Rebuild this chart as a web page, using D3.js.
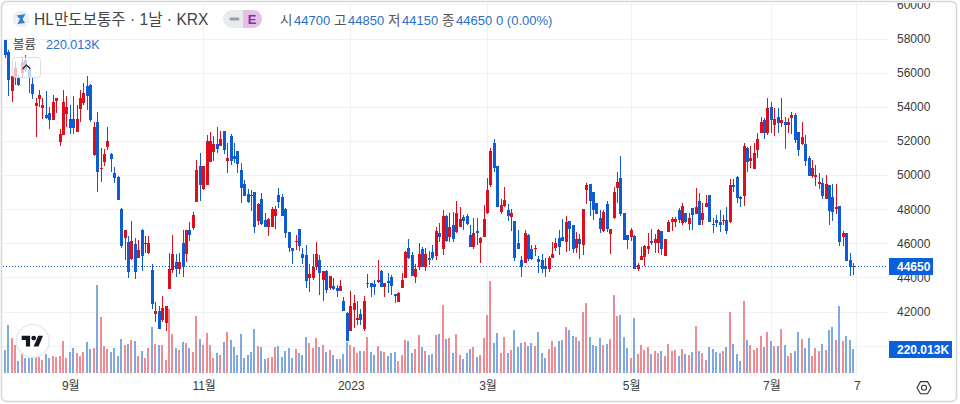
<!DOCTYPE html>
<html>
<head>
<meta charset="utf-8">
<title>HL만도보통주</title>
<script src="https://cdn.jsdelivr.net/npm/d3@7/dist/d3.min.js"></script>
<style>
  html, body { margin: 0; padding: 0; background: #fff; overflow: hidden; }
  text { font-family: "Liberation Sans", "Noto Sans CJK KR", sans-serif; }
</style>
</head>
<body>
<svg id="chart" width="960" height="404"></svg>
<script>
// daily candles
var opens = [
  57900,57200,54900,55700,55750,56000,56750,56150,55350,54050,
  54450,53950,53500,53650,53200,54350,51950,52350,53600,53300,
  53300,52500,53850,54200,55200,55300,51200,53100,50350,50750,
  51650,51250,50100,49900,48000,46300,46100,45100,45950,45150,
  46800,45950,45450,44450,41850,42050,41500,41350,43350,44450,
  44900,44500,46000,45400,46800,46900,48400,50550,49200,49400,
  50750,51350,51800,51700,52600,50800,52300,51100,51400,50300,
  49500,48900,48850,49000,47300,48600,47350,46950,46950,47600,
  48850,48700,48000,46650,45700,46100,46850,45400,45300,43950,
  43950,44600,45000,43850,44400,43400,43500,43400,43200,42650,
  41900,40850,42100,41500,41850,41000,43600,43700,43600,43750,
  44400,43450,43800,44050,43050,42550,43400,43950,45700,45300,
  44050,44600,45650,44600,45150,45500,45250,46600,45650,47600,
  46350,47100,46650,46950,47550,47600,46500,45800,46700,46000,
  46350,47800,49400,51900,50550,47850,48200,47950,47550,47300,
  46000,45000,44850,46500,45650,45650,45100,45000,44650,44500,
  45150,45700,46300,46350,46100,47300,47100,45700,46250,45900,
  49100,49500,49000,48350,47500,46700,48300,46550,47500,49250,
  49850,47800,46500,46350,46450,44500,45000,45200,45650,46150,
  46000,46000,46700,45250,46650,47250,47250,47950,47200,47800,
  47150,48050,47700,48500,47350,48150,48850,47150,47350,47250,
  47300,47350,47250,49400,49900,48700,48750,51600,50800,50350,
  51450,52450,53200,52450,54000,52950,53400,53050,53100,52950,
  53350,53500,52500,51800,51800,51000,49950,49900,49500,49550,
  48600,49400,48700,48000,48200,46350,46600,45000,44700
];
var highs = [
  57900,57350,55800,56600,55850,56900,57050,56450,55700,54500,
  55000,54500,54900,54000,54700,54500,52700,55000,54650,54100,
  54650,54100,55000,55400,55800,55350,53100,53700,51600,51550,
  52800,51300,50450,49950,48050,46800,46450,47300,46300,46200,
  46850,46450,46450,44800,42550,42300,42900,42350,45450,46500,
  45400,45450,46800,46800,47250,47850,50900,51300,50550,52350,
  52500,52300,52800,52600,52600,51900,52400,51900,51400,50700,
  49700,49200,49100,49000,48350,48950,47800,47500,48150,48200,
  49250,48900,48050,46650,45700,46500,46850,45700,45900,44800,
  45400,46100,45300,44400,44450,44100,43950,43550,43850,42850,
  42000,43200,43000,42650,42150,42900,44200,43700,43850,45000,
  44450,43700,44250,44150,43050,43150,44250,45550,46250,45500,
  44800,46000,45800,45700,45550,45900,46950,47200,47950,47650,
  47800,47850,48500,48150,47650,47700,47100,47500,47500,46350,
  48250,49850,51600,52100,50550,48600,49300,48300,48000,47300,
  46800,45250,46800,46550,45900,45900,45250,45400,45150,45250,
  46100,46300,46800,47450,47600,47300,47100,46650,46550,48000,
  49550,49500,49000,48350,47950,47950,48500,46850,49300,50200,
  51100,47800,46500,46900,46500,44850,45800,45900,46600,46850,
  46550,46850,46700,46250,47350,47550,47550,48050,48350,47800,
  47800,48050,49250,48950,48350,48850,48850,47500,47650,47950,
  47650,48150,49750,49750,49950,48750,51900,51650,51700,51900,
  52450,53400,53350,54500,54300,53950,53950,54500,53400,53350,
  53700,53650,52500,53100,52350,51100,50900,50600,50100,49850,
  50000,49400,49500,49500,48200,46700,46600,45450,44850
];
var lows = [
  56850,54650,54300,55300,55200,55750,56050,54800,54450,52250,
  54000,53300,53300,52700,53200,53650,51700,52350,52800,52400,
  52400,52500,53100,54100,53800,53100,51100,49000,49600,50550,
  51450,50200,49550,48550,45700,45000,43950,45000,43900,45150,
  44400,45450,45400,42150,41400,41000,41400,40850,43350,44250,
  44050,44200,44050,44900,46150,46800,48400,48500,49100,49400,
  50750,50800,51300,51700,51250,50100,50600,50700,50100,48350,
  48750,48350,47900,46600,47050,47100,46950,46450,46950,46850,
  48050,47600,46300,45500,44800,45600,45550,44800,43400,43150,
  43850,44450,43000,42650,43100,43250,43250,42850,43200,42050,
  40250,40850,41050,41200,41200,40850,43400,42850,43000,43700,
  43450,42850,43100,43000,42500,42550,43400,43950,45100,44100,
  43700,44450,44600,44400,44750,45000,45000,46100,45300,46100,
  46100,46100,46600,46950,46800,47100,45800,45650,45900,44850,
  46350,47700,49300,50200,48150,47700,48150,47300,46700,44950,
  45650,44050,44850,44950,45000,45250,44250,44250,44050,44300,
  45150,45550,45300,46150,45500,45550,45450,45450,45100,45300,
  48300,47600,47350,47700,46600,46650,46650,45400,47450,48350,
  47600,46200,45650,46150,44500,44400,45000,44650,45400,45900,
  45450,45450,45300,45250,46650,46700,46950,47200,47050,47200,
  46800,46800,47700,47050,47100,48150,47250,46600,46950,46650,
  47050,46550,47200,49000,48350,48150,48200,50200,50400,50350,
  51000,52450,52100,52350,52450,52300,52450,52800,51550,52450,
  52400,51900,51100,51750,50550,49950,49850,49350,49200,48600,
  48600,47100,47300,47700,45850,45850,44950,44100,44150
];
var closes = [
  57050,55550,55800,56250,55300,56600,56150,55700,54750,54200,
  54700,54100,53350,53200,54300,54500,52400,54300,54000,52750,
  52750,53300,54500,54800,54650,53200,52800,50200,50400,51250,
  52000,50950,49850,48550,45850,46800,44300,46150,44300,45600,
  45250,46000,46000,42450,42050,41000,42200,42300,44500,45400,
  44500,44900,44600,46800,46500,47650,50300,49400,50550,52000,
  52000,51800,51550,52100,51450,51000,50800,50950,50650,49250,
  48750,48400,48750,46950,48300,47150,46950,47450,48000,48000,
  48400,47600,46600,45700,45550,46150,45850,45150,43800,44200,
  44600,45400,44250,44400,43250,44100,43350,43200,43500,42050,
  40250,42350,42500,41650,41500,42650,43700,43450,43450,43850,
  43450,43700,43700,43500,42900,43100,43850,45500,45150,44100,
  44500,45400,44600,45400,45000,45150,46700,46350,47600,46150,
  46950,46250,47800,47450,47300,47150,45800,46600,46600,46300,
  47450,49100,51400,50400,48150,48250,48550,47600,47800,45150,
  45650,44600,46600,45100,45100,45700,44900,44500,44500,45150,
  45400,46000,45800,46150,47250,46850,45650,46250,45950,48000,
  49400,48500,47950,47700,46850,47850,46850,46850,49000,49600,
  47700,46200,46200,46800,44500,44750,45250,45850,45850,46000,
  46250,46800,45650,46250,47250,47450,47450,47350,48200,47250,
  47500,47650,48150,47050,47800,48350,47250,47050,47200,47050,
  47350,46700,49400,49300,48650,48600,51700,50750,51000,51300,
  52100,53100,52450,53950,53200,53300,53050,53200,52950,53100,
  53500,52050,51450,52250,50800,49950,50400,50000,49600,48750,
  49500,47900,47850,48150,46100,46600,44950,44600,44650
];
var volumes = [
  210,442,318,256,108,173,139,139,142,155,
  142,117,173,136,155,148,155,294,136,195,
  232,182,155,195,284,219,229,813,516,247,
  216,195,229,155,312,256,266,303,294,155,
  201,136,229,423,266,256,256,117,590,358,
  229,210,284,275,229,192,525,312,256,368,
  256,136,182,164,284,377,303,238,164,358,
  136,164,192,405,247,238,127,136,145,238,
  247,145,201,229,136,219,182,164,331,275,
  229,321,241,256,195,210,164,127,127,173,
  284,256,238,179,201,201,331,192,164,247,
  201,192,155,182,192,108,164,303,294,182,
  219,349,238,201,164,173,349,358,627,312,
  321,182,358,164,127,182,219,238,145,164,
  321,535,850,275,368,182,331,182,210,396,
  238,275,284,247,275,247,377,182,136,219,
  294,238,294,303,423,396,340,331,294,562,
  646,331,256,247,321,256,266,312,720,525,
  535,331,229,136,507,173,256,210,238,173,
  201,182,201,155,266,201,210,155,219,173,
  164,192,433,201,182,117,238,219,192,182,
  201,238,562,266,173,108,664,303,256,210,
  229,340,238,377,294,247,247,405,256,155,
  182,201,377,312,229,321,155,229,201,266,
  210,396,423,303,618,294,340,303,220.013
];

var priceTicks = [40000,42000,44000,46000,48000,50000,52000,54000,56000,58000,60000];
var timeIndex = [19,58,101,141,183,224,249];
var timeLabels = ["9월","11월","2023","3월","5월","7월","7"];

var legendTitle = "HL만도보통주 · 1날 · KRX";
var legendLabels = ["시","고","저","종"];
var legendValues = ["44700","44850","44150","44650"];
var legendChange = "0 (0.00%)";
var lastPrice = 44650;
var lastVolume = "220.013K";

var UP = "#dc0f1e", DOWN = "#0f5bd2", TAG = "#0860dd", LINK = "#2a6fc9";

var svg = d3.select("#chart");

var x = d3.scaleLinear().domain([0, 249]).range([5.3, 856.9]);
var y = d3.scaleLinear().domain([42000, 58000]).range([311.6, 38.5]);
var vol = d3.scaleLinear().domain([0, 850]).range([372.7, 281]);

// snap to whole pixels like the original canvas does
function sx(i) { return Math.round(x(i) - 0.5); }

svg.append("defs").append("clipPath").attr("id", "pane")
  .append("rect").attr("x", 3).attr("y", 3).attr("width", 885).attr("height", 371);

// frame
svg.append("rect")
  .attr("x", 1.5).attr("y", 1.5).attr("width", 955).attr("height", 400).attr("rx", 5)
  .attr("fill", "#fff").attr("stroke", "#d6d6d6").attr("stroke-width", 1.5);

var pane = svg.append("g").attr("clip-path", "url(#pane)");

// grid
pane.selectAll(".hgrid").data(priceTicks).enter().append("line")
  .attr("x1", 3).attr("x2", 888)
  .attr("y1", function(d) { return Math.round(y(d)) + 0.5; })
  .attr("y2", function(d) { return Math.round(y(d)) + 0.5; })
  .attr("stroke", "#f0f1f3");

pane.selectAll(".vgrid").data(timeIndex).enter().append("line")
  .attr("y1", 3).attr("y2", 374)
  .attr("x1", function(d) { return sx(d) + 0.5; })
  .attr("x2", function(d) { return sx(d) + 0.5; })
  .attr("stroke", "#f0f1f3");

// volume bars
pane.selectAll(".vol").data(volumes).enter().append("rect")
  .attr("class", "vol")
  .attr("shape-rendering", "crispEdges")
  .attr("x", function(d, i) { return sx(i) - 1; })
  .attr("width", 2)
  .attr("y", function(d) { return vol(d); })
  .attr("height", function(d) { return vol(0) - vol(d); })
  .attr("fill", function(d, i) { return closes[i] >= opens[i] ? "#ef8b92" : "#7fa9e0"; });

// last price line
pane.append("line")
  .attr("x1", 3).attr("x2", 888)
  .attr("y1", Math.round(y(lastPrice)) + 0.5).attr("y2", Math.round(y(lastPrice)) + 0.5)
  .attr("stroke", "#0d4fb4").attr("stroke-dasharray", "1 2");

// candles
var candle = pane.selectAll(".candle").data(opens).enter().append("g")
  .attr("class", "candle")
  .attr("shape-rendering", "crispEdges")
  .attr("fill", function(d, i) { return closes[i] >= opens[i] ? UP : DOWN; });

candle.append("rect")
  .attr("x", function(d, i) { return sx(i); })
  .attr("width", 1)
  .attr("y", function(d, i) { return Math.round(y(highs[i])); })
  .attr("height", function(d, i) { return Math.max(1, Math.round(y(lows[i])) - Math.round(y(highs[i]))); });

candle.append("rect")
  .attr("x", function(d, i) { return sx(i) - 1; })
  .attr("width", 3)
  .attr("y", function(d, i) { return Math.round(y(Math.max(opens[i], closes[i]))); })
  .attr("height", function(d, i) { return Math.max(1, Math.round(y(Math.min(opens[i], closes[i]))) - Math.round(y(Math.max(opens[i], closes[i])))); });

// price axis, 40000 sits behind the volume tag and 60000 is cut by the frame
var priceAxis = svg.append("g")
  .attr("transform", "translate(897,0)")
  .attr("clip-path", "url(#axisclip)")
  .call(d3.axisRight(y).tickValues(priceTicks).tickSize(0).tickPadding(0).tickFormat(d3.format("d")));
priceAxis.select(".domain").remove();
priceAxis.selectAll("text").attr("fill", "#3a3a3a").attr("font-size", 12).style("font-family", null);
svg.select("defs").append("clipPath").attr("id", "axisclip")
  .append("rect").attr("x", -8).attr("y", 3).attr("width", 60).attr("height", 380);

// price tags
svg.append("rect").attr("x", 889).attr("y", 258).attr("width", 44).attr("height", 17).attr("fill", TAG);
svg.append("text").attr("x", 897).attr("y", 271).attr("fill", "#fff")
  .attr("font-size", 12).attr("font-weight", "bold").text(lastPrice);
svg.append("rect").attr("x", 889).attr("y", 341).attr("width", 63).attr("height", 17).attr("fill", TAG);
svg.append("text").attr("x", 897).attr("y", 354).attr("fill", "#fff")
  .attr("font-size", 12).attr("font-weight", "bold").text(lastVolume);

// time axis
var timeAxis = svg.append("g")
  .attr("transform", "translate(0,378)")
  .call(d3.axisBottom(x).tickValues(timeIndex).tickSize(0).tickPadding(0)
    .tickFormat(function(d, i) { return timeLabels[i]; }));
timeAxis.select(".domain").remove();
timeAxis.selectAll("text").attr("fill", "#3a3a3a").attr("font-size", 12).style("font-family", null)
  .attr("y", 3);

// settings hexagon
var hex = d3.range(6).map(function(k) {
  var a = k * Math.PI / 3;
  return [924 + 7 * Math.cos(a), 387.7 + 7 * Math.sin(a)];
});
svg.append("path").attr("d", d3.line()(hex) + "Z")
  .attr("fill", "none").attr("stroke", "#333").attr("stroke-width", 1.1).attr("stroke-linejoin", "round");
svg.append("circle").attr("cx", 924).attr("cy", 387.7).attr("r", 2.5)
  .attr("fill", "none").attr("stroke", "#333").attr("stroke-width", 1.1);

// collapse button
svg.append("rect")
  .attr("x", 12.5).attr("y", 57.5).attr("width", 28).attr("height", 20).attr("rx", 3)
  .attr("fill", "#fff").attr("fill-opacity", 0.72).attr("stroke", "#dcdde0");
svg.append("path").attr("d", "M22.5 69L26.5 65L30.5 69")
  .attr("fill", "none").attr("stroke", "#222").attr("stroke-width", 1.2);

// tv logo
svg.append("circle").attr("cx", 32.7).attr("cy", 341).attr("r", 16.5)
  .attr("fill", "#fff").attr("stroke", "#e4e5e8").attr("stroke-width", 1.2);
svg.append("path")
  .attr("transform", "translate(21.7,333.3) scale(0.6)")
  .attr("d", "M14 22H7V11H0V4h14v18zM28 22h-8l7.5-18h8L28 22z")
  .attr("fill", "#131722");
svg.append("circle").attr("cx", 33.7).attr("cy", 338.1).attr("r", 2.4).attr("fill", "#131722");

// legend
svg.append("circle").attr("cx", 21).attr("cy", 19).attr("r", 8.5).attr("fill", "#edeff4");
svg.append("path").attr("d", "M16.5 15.5L25.5 14L22.5 19L25 23L17.5 24L20 19Z").attr("fill", "#2f7fc9");
svg.append("text").attr("x", 34).attr("y", 25).attr("fill", "#444")
  .attr("font-size", 15.6).text(legendTitle);

svg.append("path").attr("d", "M232 10H243V28H232A9 9 0 0 1 232 10Z").attr("fill", "#e9ebef");
svg.append("path").attr("d", "M243 10H253A9 9 0 0 1 253 28H243Z").attr("fill", "#e2c0e8");
svg.append("line").attr("x1", 231).attr("x2", 238).attr("y1", 19).attr("y2", 19)
  .attr("stroke", "#9a9ea6").attr("stroke-width", 3).attr("stroke-linecap", "round");
svg.append("text").attr("x", 252).attr("y", 24).attr("text-anchor", "middle")
  .attr("fill", "#8a2ca0").attr("font-size", 13).attr("font-weight", "bold").text("E");

var legendX = [280, 334, 388, 442];
var legendG = svg.selectAll(".ohlc").data(legendLabels).enter().append("g").attr("class", "ohlc");
legendG.append("text")
  .attr("x", function(d, i) { return legendX[i]; }).attr("y", 25)
  .attr("fill", "#555").attr("font-size", 13.5).text(function(d) { return d; });
legendG.append("text")
  .attr("x", function(d, i) { return legendX[i] + 14; }).attr("y", 25)
  .attr("fill", LINK).attr("font-size", 13).text(function(d, i) { return legendValues[i]; });
svg.append("text").attr("x", 496).attr("y", 25).attr("fill", LINK)
  .attr("font-size", 13).text(legendChange);

svg.append("text").attr("x", 13).attr("y", 49).attr("fill", "#444")
  .attr("font-size", 12.5).text("볼륨");
svg.append("text").attr("x", 46).attr("y", 49).attr("fill", LINK)
  .attr("font-size", 12.5).text(lastVolume);
</script>
</body>
</html>
